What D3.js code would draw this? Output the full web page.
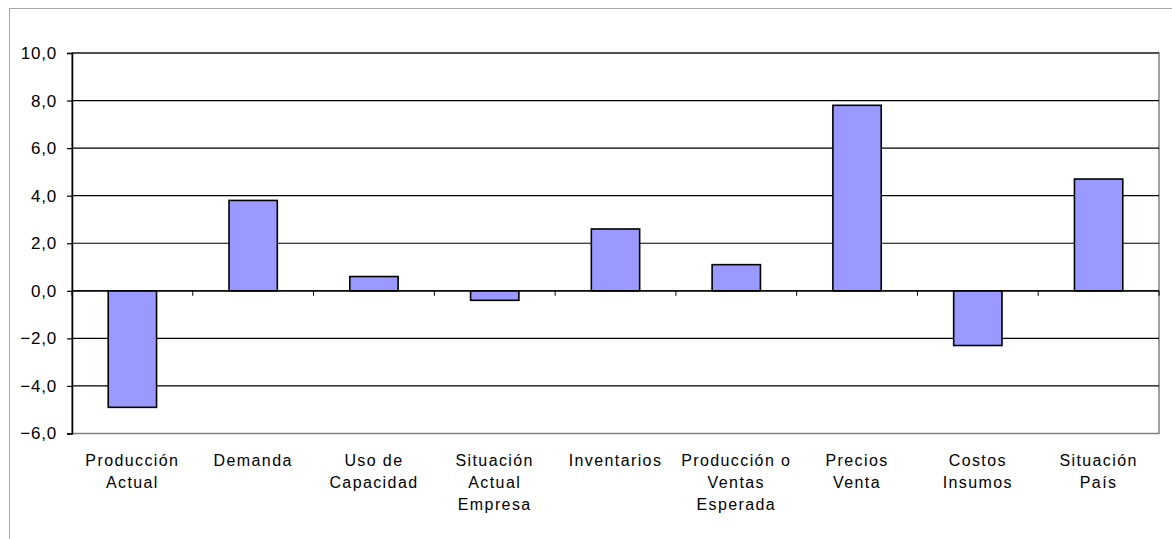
<!DOCTYPE html>
<html>
<head>
<meta charset="utf-8">
<script src="https://cdn.jsdelivr.net/npm/d3@7"></script>
<style>
  html, body { margin: 0; padding: 0; background: #fff; }
  svg { display: block; font-family: "Liberation Sans", Arial, sans-serif; }
</style>
</head>
<body>
<svg id="chart" width="1172" height="539"></svg>
<script>
// Survey balance by indicator
const categories = [
  ["Producción", "Actual"],
  ["Demanda"],
  ["Uso de", "Capacidad"],
  ["Situación", "Actual", "Empresa"],
  ["Inventarios"],
  ["Producción o", "Ventas", "Esperada"],
  ["Precios", "Venta"],
  ["Costos", "Insumos"],
  ["Situación", "País"]
];
const values = [-4.9, 3.8, 0.6, -0.4, 2.6, 1.1, 7.8, -2.3, 4.7];
const yTicks = [-6, -4, -2, 0, 2, 4, 6, 8, 10];

const svg = d3.select("#chart");
const plot = { left: 72, right: 1159, top: 53, bottom: 433.5 };

// outer frame
svg.append("rect")
  .attr("x", 9.5).attr("y", 8.5)
  .attr("width", 1200).attr("height", 600)
  .attr("fill", "none").attr("stroke", "#a6a6a6").attr("stroke-width", 1);

const keys = categories.map((c, i) => i);
const x = d3.scaleBand().domain(keys).range([plot.left, plot.right]).paddingInner(0).paddingOuter(0);
const y = d3.scaleLinear().domain([-6, 10]).range([plot.bottom, plot.top]);

// plot border (right and bottom gray)
svg.append("rect")
  .attr("x", plot.left).attr("y", plot.top)
  .attr("width", plot.right - plot.left).attr("height", plot.bottom - plot.top)
  .attr("fill", "none").attr("stroke", "#808080").attr("stroke-width", 1.5);

// horizontal gridlines
svg.append("g").selectAll("line")
  .data(yTicks.filter(t => t !== -6))
  .join("line")
  .attr("x1", plot.left).attr("x2", plot.right)
  .attr("y1", d => y(d)).attr("y2", d => y(d))
  .attr("stroke", "#000").attr("stroke-width", 1.2);

// y axis
const yAxis = d3.axisLeft(y)
  .tickValues(yTicks)
  .tickSize(5)
  .tickPadding(10)
  .tickFormat(d => d3.format(".1f")(d).replace(".", ","));
const gy = svg.append("g").attr("transform", `translate(${plot.left},0)`).call(yAxis);
gy.select(".domain").attr("stroke", "#000").attr("stroke-width", 1.5);
gy.selectAll(".tick line").attr("stroke", "#000").attr("stroke-width", 1.2);
gy.selectAll(".tick text")
  .attr("font-size", 17).attr("fill", "#000")
  .attr("letter-spacing", "0.8px")
  .attr("font-family", "'Liberation Sans', Arial, sans-serif");

// bars
const barW = x.bandwidth() / 2.5;
svg.append("g").selectAll("rect")
  .data(values)
  .join("rect")
  .attr("x", (d, i) => x(i) + (x.bandwidth() - barW) / 2)
  .attr("y", d => y(Math.max(0, d)))
  .attr("width", barW)
  .attr("height", d => Math.abs(y(d) - y(0)))
  .attr("fill", "#9999ff")
  .attr("stroke", "#000")
  .attr("stroke-width", 1.6);

// category axis at zero
svg.append("line")
  .attr("x1", plot.left).attr("x2", plot.right)
  .attr("y1", y(0)).attr("y2", y(0))
  .attr("stroke", "#000").attr("stroke-width", 1.2);
svg.append("g").selectAll("line")
  .data(d3.range(categories.length + 1))
  .join("line")
  .attr("x1", i => plot.left + i * x.step())
  .attr("x2", i => plot.left + i * x.step())
  .attr("y1", y(0)).attr("y2", y(0) + 5)
  .attr("stroke", "#000").attr("stroke-width", 1);

// category labels
const lab = svg.append("g").selectAll("text")
  .data(categories)
  .join("text")
  .attr("x", (d, i) => x(i) + x.bandwidth() / 2)
  .attr("y", 466)
  .attr("text-anchor", "middle")
  .attr("font-size", 16)
  .attr("letter-spacing", "1.4px")
  .attr("fill", "#000");
lab.selectAll("tspan")
  .data(d => d)
  .join("tspan")
  .attr("x", function () { return this.parentNode.getAttribute("x"); })
  .attr("dy", (d, i) => i === 0 ? 0 : 22)
  .text(d => d);
</script>
</body>
</html>
